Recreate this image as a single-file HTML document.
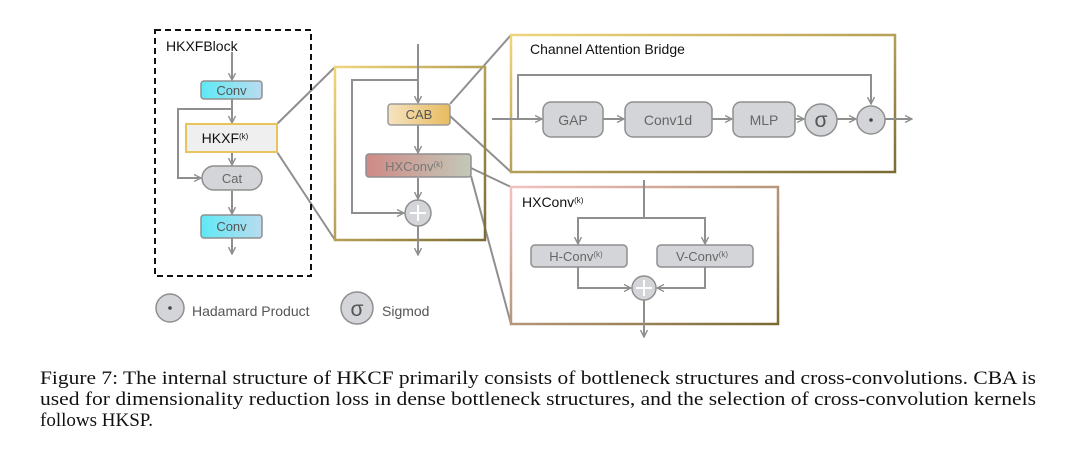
<!DOCTYPE html>
<html><head><meta charset="utf-8"><style>
html,body{margin:0;padding:0;background:#fff;}
svg{display:block;}
</style></head><body>
<svg width="1080" height="461" viewBox="0 0 1080 461" xmlns="http://www.w3.org/2000/svg" font-family="Liberation Sans, sans-serif">
<defs>
<marker id="a" markerWidth="8" markerHeight="8" refX="7" refY="4" orient="auto" markerUnits="userSpaceOnUse">
<path d="M0,0.5 L7,4 L0,7.5" fill="none" stroke="#8f8f8f" stroke-width="1.4"/>
</marker>
<linearGradient id="cyan" x1="0" x2="1"><stop offset="0" stop-color="#5fe9f5"/><stop offset="1" stop-color="#b8dcef"/></linearGradient>
<linearGradient id="cab" x1="0" x2="1"><stop offset="0" stop-color="#f5e3c0"/><stop offset="1" stop-color="#e8bb5f"/></linearGradient>
<linearGradient id="hx" x1="0" x2="1"><stop offset="0" stop-color="#cf8a86"/><stop offset="1" stop-color="#c3c8b8"/></linearGradient>
<linearGradient id="ybox" x1="0" x2="1" y1="0" y2="1"><stop offset="0" stop-color="#f0d67a"/><stop offset="1" stop-color="#7a6a34"/></linearGradient>
<linearGradient id="pbox" x1="0" x2="1" y1="0" y2="1"><stop offset="0" stop-color="#f3c2c0"/><stop offset="1" stop-color="#7a6a34"/></linearGradient>
</defs>
<g stroke="#8f8f8f" stroke-width="2" fill="none">
<line x1="277" y1="124" x2="335" y2="67"/>
<line x1="277" y1="152" x2="335" y2="240"/>
<line x1="450" y1="104" x2="511" y2="35"/>
<line x1="450" y1="116" x2="511" y2="172"/>
<line x1="471" y1="168" x2="511" y2="187"/>
<line x1="471" y1="176" x2="511" y2="324"/>
</g>
<rect x="155" y="30" width="156" height="246" fill="none" stroke="#111" stroke-width="2" stroke-dasharray="6,4"/>
<text x="166" y="51" font-size="14" fill="#111">HKXFBlock</text>
<g stroke="#8f8f8f" stroke-width="2" fill="none">
<line x1="232" y1="52" x2="232" y2="80" marker-end="url(#a)"/>
<line x1="232" y1="98" x2="232" y2="123" marker-end="url(#a)"/>
<polyline points="232,109 178,109 178,178 201,178" marker-end="url(#a)"/>
<line x1="232" y1="153" x2="232" y2="165" marker-end="url(#a)"/>
<line x1="232" y1="191" x2="232" y2="214" marker-end="url(#a)"/>
<line x1="232" y1="238" x2="232" y2="254" marker-end="url(#a)"/>
</g>
<rect x="201" y="81" width="61" height="18" rx="3" fill="url(#cyan)" stroke="#8f8f8f" stroke-width="1.5"/>
<text x="231.5" y="95" font-size="13" fill="#555" text-anchor="middle">Conv</text>
<rect x="186" y="124" width="91" height="28" fill="#efefef" stroke="#e8c45a" stroke-width="2"/>
<text x="225" y="143" font-size="14" fill="#111" text-anchor="middle">HKXF<tspan font-size="8" dy="-4">(k)</tspan></text>
<rect x="202" y="166" width="60" height="24" rx="12" fill="#d4d5d8" stroke="#8f8f8f" stroke-width="1.5"/>
<text x="232" y="183" font-size="13" fill="#666" text-anchor="middle">Cat</text>
<rect x="201" y="215" width="61" height="23" rx="3" fill="url(#cyan)" stroke="#8f8f8f" stroke-width="1.5"/>
<text x="231.5" y="231" font-size="13" fill="#555" text-anchor="middle">Conv</text>
<rect x="335" y="67" width="150" height="173" fill="none" stroke="url(#ybox)" stroke-width="2.5"/>
<g stroke="#8f8f8f" stroke-width="2" fill="none">
<line x1="418" y1="44" x2="418" y2="103" marker-end="url(#a)"/>
<polyline points="418,80 352,80 352,213 404,213" marker-end="url(#a)"/>
<line x1="418" y1="125" x2="418" y2="153" marker-end="url(#a)"/>
<line x1="418" y1="178" x2="418" y2="199" marker-end="url(#a)"/>
<line x1="418" y1="226" x2="418" y2="255" marker-end="url(#a)"/>
</g>
<rect x="388" y="104" width="62" height="21" rx="3" fill="url(#cab)" stroke="#9a9a9a" stroke-width="1.5"/>
<text x="419" y="119" font-size="13" fill="#555" text-anchor="middle">CAB</text>
<rect x="366" y="154" width="105" height="23" rx="3" fill="url(#hx)" stroke="#8f8f8f" stroke-width="1.5"/>
<text x="414" y="171" font-size="13" fill="#777" text-anchor="middle">HXConv<tspan font-size="8" dy="-4">(k)</tspan></text>
<circle cx="418" cy="213" r="13" fill="#d4d5d8" stroke="#8f8f8f" stroke-width="1.5"/>
<path d="M418,205 v16 M410,213 h16" stroke="#fff" stroke-width="2"/>
<rect x="511" y="35" width="384" height="137" fill="none" stroke="url(#ybox)" stroke-width="2.5"/>
<text x="530" y="54" font-size="14" fill="#111">Channel Attention Bridge</text>
<g stroke="#8f8f8f" stroke-width="2" fill="none">
<line x1="492" y1="119" x2="542" y2="119" marker-end="url(#a)"/>
<polyline points="518,119 518,75 871,75 871,104" marker-end="url(#a)"/>
<line x1="603" y1="119" x2="624" y2="119" marker-end="url(#a)"/>
<line x1="712" y1="119" x2="732" y2="119" marker-end="url(#a)"/>
<line x1="795" y1="119" x2="804" y2="119" marker-end="url(#a)"/>
<line x1="837" y1="119" x2="856" y2="119" marker-end="url(#a)"/>
<line x1="885" y1="119" x2="912" y2="119" marker-end="url(#a)"/>
</g>
<g fill="#d4d5d8" stroke="#8f8f8f" stroke-width="1.5">
<rect x="543" y="102" width="60" height="35" rx="8"/>
<rect x="625" y="102" width="87" height="35" rx="8"/>
<rect x="733" y="102" width="62" height="35" rx="8"/>
<circle cx="821" cy="120" r="16"/>
<circle cx="871" cy="120" r="14"/>
</g>
<text x="573" y="125" font-size="14" fill="#666" text-anchor="middle">GAP</text>
<text x="668" y="125" font-size="14" fill="#666" text-anchor="middle">Conv1d</text>
<text x="764" y="125" font-size="14" fill="#666" text-anchor="middle">MLP</text>
<text x="821" y="127" font-size="21" fill="#555" text-anchor="middle">σ</text>
<circle cx="871" cy="120" r="1.8" fill="#444"/>
<rect x="511" y="187" width="267" height="137" fill="none" stroke="url(#pbox)" stroke-width="2.5"/>
<text x="522" y="207" font-size="14" fill="#111">HXConv<tspan font-size="8" dy="-4">(k)</tspan></text>
<g stroke="#8f8f8f" stroke-width="2" fill="none">
<line x1="644" y1="180" x2="644" y2="218"/>
<polyline points="578,244 578,218 705,218 705,244"/>
<line x1="578" y1="236" x2="578" y2="244" marker-end="url(#a)"/>
<line x1="705" y1="236" x2="705" y2="244" marker-end="url(#a)"/>
<polyline points="578,267 578,288 631,288" marker-end="url(#a)"/>
<polyline points="705,267 705,288 657,288" marker-end="url(#a)"/>
<line x1="644" y1="300" x2="644" y2="337" marker-end="url(#a)"/>
</g>
<rect x="531" y="245" width="96" height="22" rx="4" fill="#d4d5d8" stroke="#8f8f8f" stroke-width="1.5"/>
<text x="576" y="261" font-size="13" fill="#666" text-anchor="middle">H-Conv<tspan font-size="8" dy="-4">(k)</tspan></text>
<rect x="657" y="245" width="96" height="22" rx="4" fill="#d4d5d8" stroke="#8f8f8f" stroke-width="1.5"/>
<text x="702" y="261" font-size="13" fill="#666" text-anchor="middle">V-Conv<tspan font-size="8" dy="-4">(k)</tspan></text>
<circle cx="644" cy="288" r="12" fill="#d4d5d8" stroke="#8f8f8f" stroke-width="1.5"/>
<path d="M644,280 v16 M636,288 h16" stroke="#fff" stroke-width="2"/>
<circle cx="170" cy="308" r="14" fill="#d4d5d8" stroke="#8f8f8f" stroke-width="1.5"/>
<circle cx="170" cy="308" r="1.8" fill="#444"/>
<text x="192" y="316" font-size="14" fill="#555">Hadamard Product</text>
<circle cx="357" cy="308" r="16" fill="#d4d5d8" stroke="#8f8f8f" stroke-width="1.5"/>
<text x="357" y="316" font-size="21" fill="#555" text-anchor="middle">σ</text>
<text x="382" y="316" font-size="14" fill="#555">Sigmod</text>
<g font-family="Liberation Serif, serif" font-size="19" fill="#111">
<text x="40" y="384" textLength="996" lengthAdjust="spacingAndGlyphs">Figure 7: The internal structure of HKCF primarily consists of bottleneck structures and cross-convolutions. CBA is</text>
<text x="40" y="405" textLength="996" lengthAdjust="spacingAndGlyphs">used for dimensionality reduction loss in dense bottleneck structures, and the selection of cross-convolution kernels</text>
<text x="40" y="426">follows HKSP.</text>
</g>
</svg>
</body></html>
